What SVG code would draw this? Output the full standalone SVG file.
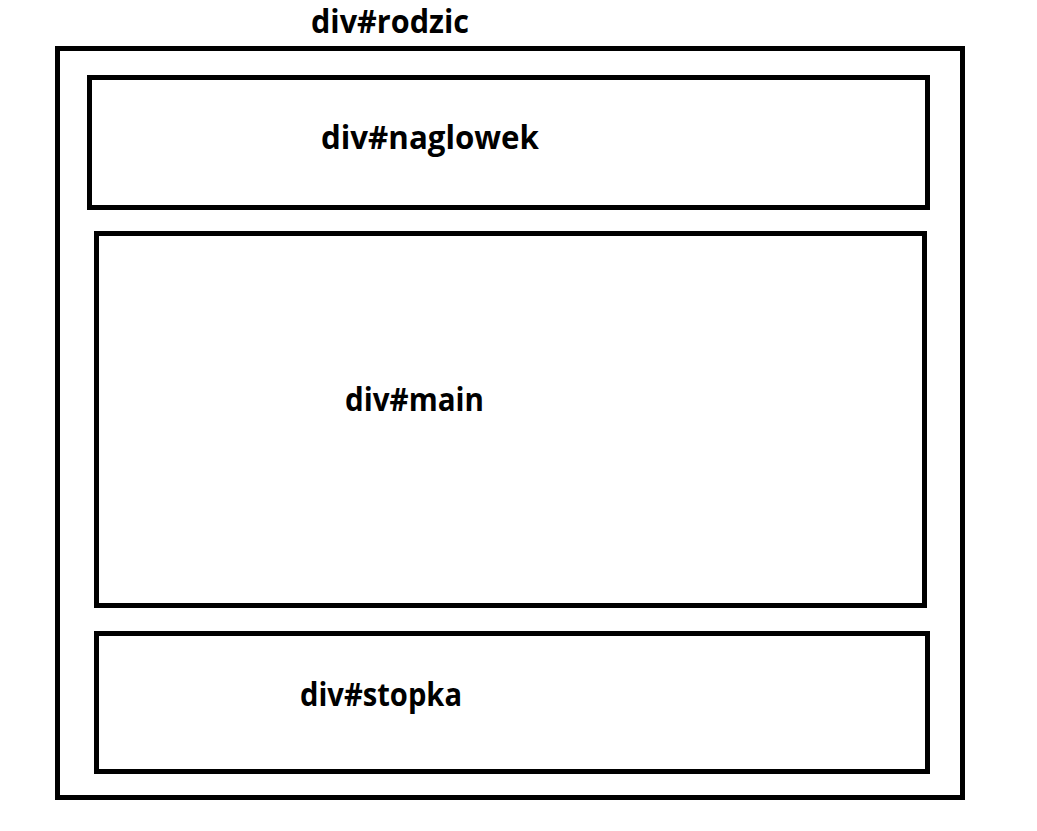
<svg xmlns="http://www.w3.org/2000/svg" width="1037" height="831" viewBox="0 0 1037 831">
<style>
.box{fill:none;stroke:#000;stroke-width:5}
.lbl{font-family:"Open Sans","Liberation Sans",sans-serif;font-weight:bold;font-size:33px;fill:#000}
</style>
<rect x="0" y="0" width="1037" height="831" fill="#fff"/>
<g id="rodzic">
<rect class="box" x="57.5" y="48.5" width="905" height="749"/>
<text class="lbl" x="311" y="33" textLength="158" lengthAdjust="spacingAndGlyphs">div#rodzic</text>
</g>
<g id="naglowek">
<rect class="box" x="89.5" y="77.5" width="838" height="130"/>
<text class="lbl" x="321" y="149" textLength="218" lengthAdjust="spacingAndGlyphs">div#naglowek</text>
</g>
<g id="main">
<rect class="box" x="96.5" y="233.5" width="828" height="372"/>
<text class="lbl" x="345" y="411" textLength="139" lengthAdjust="spacingAndGlyphs">div#main</text>
</g>
<g id="stopka">
<rect class="box" x="96.5" y="633.5" width="831" height="138"/>
<text class="lbl" x="300" y="706" textLength="162" lengthAdjust="spacingAndGlyphs">div#stopka</text>
</g>
<g id="connectors"></g>
</svg>
